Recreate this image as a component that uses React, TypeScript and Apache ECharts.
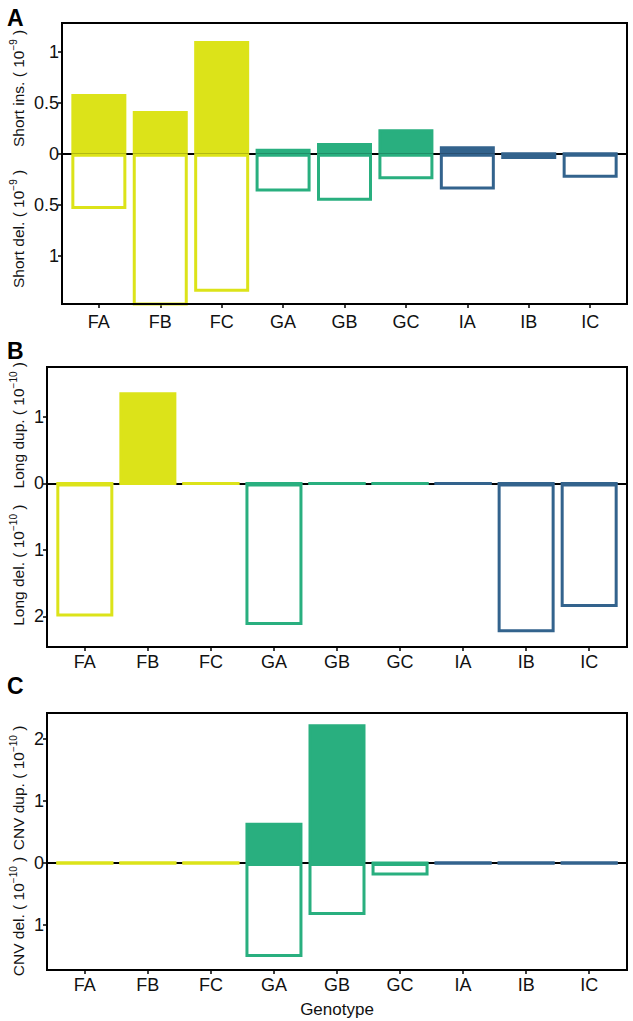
import React, { useEffect, useRef } from "react";
import * as echarts from "echarts";

const genotypes = ["FA", "FB", "FC", "GA", "GB", "GC", "IA", "IB", "IC"];
const shortIns = [0.585, 0.42, 1.105, 0.05, 0.105, 0.24, 0.075, 0, 0];
const shortDel = [0.54, 1.6, 1.35, 0.37, 0.46, 0.25, 0.35, 0.05, 0.235];
const longDup = [0, 1.37, 0, 0, 0, 0, 0, 0, 0];
const longDel = [2.0, 0, 0, 2.13, 0, 0, 0, 2.24, 1.86];
const cnvDup = [0, 0, 0, 0.645, 2.23, 0, 0, 0, 0];
const cnvDel = [0, 0, 0, 1.51, 0.835, 0.2, 0, 0, 0];
const ticksA = [-1, -0.5, 0, 0.5, 1];
const ticksB = [-2, -1, 0, 1];
const ticksC = [-1, 0, 1, 2];
const xTicks = [0, 1, 2, 3, 4, 5, 6, 7, 8];

const groupColor: Record<string, string> = { F: "#DCE319", G: "#29AF7F", I: "#33638D" };
const FONT = "'Liberation Sans', Arial, Helvetica, sans-serif";

const panels = [
  { letter: "A", letterTop: 6, top: 23, height: 281, left: 62, ymin: -1.47, ymax: 1.28, ticks: ticksA, up: shortIns, down: shortDel, upTitle: "Short ins.", downTitle: "Short del.", exp: "−9", barWidth: 55, labelMargin: 9 },
  { letter: "B", letterTop: 339, top: 367, height: 280, left: 47, ymin: -2.46, ymax: 1.75, ticks: ticksB, up: longDup, down: longDel, upTitle: "Long dup.", downTitle: "Long del.", exp: "−10", barWidth: 57, labelMargin: 6 },
  { letter: "C", letterTop: 674, top: 713, height: 257, left: 47, ymin: -1.72, ymax: 2.41, ticks: ticksC, up: cnvDup, down: cnvDel, upTitle: "CNV dup.", downTitle: "CNV del.", exp: "−10", barWidth: 57, labelMargin: 6 },
];

export default function App() {
  const ref = useRef<HTMLDivElement>(null);
  useEffect(() => {
    if (!ref.current) return;
    const chart = echarts.init(ref.current, undefined, { renderer: "svg" });
    const grids: any[] = [];
    const xAxes: any[] = [];
    const yAxes: any[] = [];
    const series: any[] = [];
    const graphics: any[] = [];
    panels.forEach((p, k) => {
      grids.push({ left: p.left, right: 6, top: p.top, height: p.height, show: true, z: 10, borderColor: "#000", borderWidth: 2, backgroundColor: "transparent", containLabel: false });
      xAxes.push({
        type: "value", gridIndex: k, min: -0.6, max: 8.6,
        axisLine: { show: false, onZero: false }, splitLine: { show: false },
        axisTick: { show: true, customValues: xTicks, length: 4, lineStyle: { color: "#000", width: 1.5 } },
        axisLabel: { customValues: xTicks, formatter: (v: number) => genotypes[Math.round(v)] ?? "", color: "#111", fontSize: 18, fontFamily: FONT, margin: p.labelMargin },
        ...(k === 2 ? { name: "Genotype", nameLocation: "middle", nameGap: 31, nameTextStyle: { color: "#111", fontSize: 17, fontFamily: FONT } } : {}),
      });
      yAxes.push({
        type: "value", gridIndex: k, min: p.ymin, max: p.ymax,
        axisLine: { show: false, onZero: false }, splitLine: { show: false },
        axisTick: { show: true, customValues: p.ticks, length: 4, lineStyle: { color: "#000", width: 1.5 } },
        axisLabel: { customValues: p.ticks, formatter: (v: number) => String(Math.abs(v)), color: "#111", fontSize: 18, fontFamily: FONT, margin: 3 },
      });
      const colors = genotypes.map((g) => groupColor[g[0]]);
      series.push({
        type: "bar", xAxisIndex: k, yAxisIndex: k, barWidth: p.barWidth, barGap: "-100%", z: 2,
        data: p.down.map((v, i) => ({ value: [i, -v], itemStyle: { color: "#fff", borderColor: colors[i], borderWidth: 3 } })),
        markLine: { silent: true, symbol: "none", z: 1, label: { show: false }, lineStyle: { color: "#000", width: 2, type: "solid" }, data: [{ yAxis: 0 }] },
      });
      series.push({
        type: "bar", xAxisIndex: k, yAxisIndex: k, barWidth: p.barWidth, barGap: "-100%", z: 3,
        data: p.up.map((v, i) => ({ value: [i, v], itemStyle: { color: colors[i], borderColor: colors[i], borderWidth: 3 } })),
      });
      const zeroFrac = p.ymax / (p.ymax - p.ymin);
      const zeroY = p.top + p.height * zeroFrac;
      const rich = {
        n: { fontSize: 15.5, fontFamily: FONT, fill: "#111", lineHeight: 20 },
        s: { fontSize: 10, fontFamily: FONT, fill: "#111", verticalAlign: "top", lineHeight: 20 },
      };
      graphics.push({
        type: "text", x: 18, y: (p.top + zeroY) / 2, rotation: Math.PI / 2,
        style: { text: `{n|${p.upTitle} ( 10}{s|${p.exp}}{n| )}`, rich, align: "center", verticalAlign: "middle" },
      });
      graphics.push({
        type: "text", x: 18, y: (zeroY + p.top + p.height) / 2, rotation: Math.PI / 2,
        style: { text: `{n|${p.downTitle} ( 10}{s|${p.exp}}{n| )}`, rich, align: "center", verticalAlign: "middle" },
      });
      graphics.push({
        type: "text", left: 7, top: p.letterTop,
        style: { text: p.letter, fontSize: 23, fontWeight: "bold", fontFamily: FONT, fill: "#000" },
      });
    });
    chart.setOption({
      animation: false,
      backgroundColor: "#fff",
      grid: grids,
      xAxis: xAxes,
      yAxis: yAxes,
      series,
      graphic: graphics,
    });
    return () => chart.dispose();
  }, []);
  return <div ref={ref} style={{ position: "absolute", left: 0, top: 0, width: 633, height: 1021 }} />;
}
